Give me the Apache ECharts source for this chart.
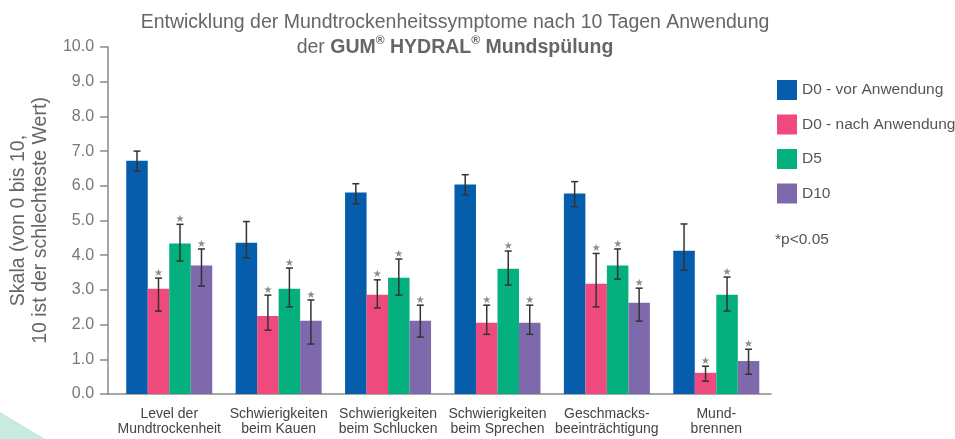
<!DOCTYPE html>
<html>
<head>
<meta charset="utf-8">
<script src="https://cdn.jsdelivr.net/npm/echarts@6/dist/echarts.min.js"></script>
<style>
  html, body { margin: 0; padding: 0; background: #fff; }
  #chart { width: 955px; height: 439px; }
</style>
</head>
<body>
<div id="chart"></div>
<script>
// Kategorien (x-Achse)
var categories = [
  'Level der\nMundtrockenheit',
  'Schwierigkeiten\nbeim Kauen',
  'Schwierigkeiten\nbeim Schlucken',
  'Schwierigkeiten\nbeim Sprechen',
  'Geschmacks-\nbeeinträchtigung',
  'Mund-\nbrennen'
];
var seriesNames = ['D0 - vor Anwendung', 'D0 - nach Anwendung', 'D5', 'D10'];
var seriesColors = ['#065dab', '#ef4a7d', '#05b07f', '#7f69ad'];

// Mittelwerte
var d0vor   = [6.72, 4.36, 5.81, 6.04, 5.78, 4.13];
var d0nach  = [3.03, 2.25, 2.86, 2.05, 3.18, 0.61];
var d5      = [4.34, 3.03, 3.35, 3.61, 3.70, 2.86];
var d10     = [3.70, 2.11, 2.11, 2.05, 2.63, 0.95];

// Fehlerbalken (obere / untere Grenze)
var d0vorHigh  = [7.00, 4.97, 6.06, 6.32, 6.12, 4.90];
var d0vorLow   = [6.42, 3.92, 5.48, 5.74, 5.40, 3.57];
var d0nachHigh = [3.34, 2.85, 3.29, 2.56, 4.05, 0.80];
var d0nachLow  = [2.39, 1.84, 2.48, 1.72, 2.51, 0.37];
var d5High     = [4.89, 3.63, 3.89, 4.12, 4.18, 3.37];
var d5Low      = [3.83, 2.51, 2.85, 3.14, 3.31, 2.39];
var d10High    = [4.18, 2.71, 2.56, 2.56, 3.05, 1.29];
var d10Low     = [3.11, 1.44, 1.64, 1.72, 2.10, 0.57];

// signifikant (*p<0.05)
var significant = [false, true, true, true];

var yTicks = [0, 1, 2, 3, 4, 5, 6, 7, 8, 9, 10];

var values = [d0vor, d0nach, d5, d10];
var highs = [d0vorHigh, d0nachHigh, d5High, d10High];
var lows = [d0vorLow, d0nachLow, d5Low, d10Low];

var BAR_W = 21.5;
var Y_OFFSET = 6.5;
var FONT = '"Liberation Sans", Arial, sans-serif';

var chart = echarts.init(document.getElementById('chart'));

var series = [];
for (var s = 0; s < 4; s++) {
  series.push({
    name: seriesNames[s],
    type: 'bar',
    barWidth: BAR_W,
    barGap: '0%',
    itemStyle: { color: seriesColors[s] },
    data: values[s],
    z: 2
  });
}

// Fehlerbalken + Sterne
for (var s = 0; s < 4; s++) {
  (function (si) {
    var data = [];
    for (var i = 0; i < categories.length; i++) {
      data.push([i, lows[si][i], highs[si][i]]);
    }
    series.push({
      type: 'custom',
      name: seriesNames[si] + ' err',
      z: 5,
      silent: true,
      renderItem: function (params, api) {
        var idx = api.value(0);
        var lo = api.coord([idx, api.value(1)]);
        var hi = api.coord([idx, api.value(2)]);
        var x = lo[0] + (si - 1.5) * BAR_W;
        var cap = 3.5;
        var style = { stroke: '#333', lineWidth: 1.5 };
        var children = [
          { type: 'line', shape: { x1: x, y1: hi[1], x2: x, y2: lo[1] }, style: style },
          { type: 'line', shape: { x1: x - cap, y1: hi[1], x2: x + cap, y2: hi[1] }, style: style },
          { type: 'line', shape: { x1: x - cap, y1: lo[1], x2: x + cap, y2: lo[1] }, style: style }
        ];
        if (significant[si]) {
          children.push({
            type: 'text',
            style: {
              text: '★', x: x, y: hi[1] - 5,
              fill: '#8c8c8c', font: '10px "DejaVu Sans", sans-serif',
              align: 'center', verticalAlign: 'middle'
            }
          });
        }
        return { type: 'group', children: children };
      },
      data: data
    });
  })(s);
}

var option = {
  animation: false,
  title: {
    text: 'Entwicklung der Mundtrockenheitssymptome nach 10 Tagen Anwendung\nder {b|GUM}{sup|®}{b| HYDRAL}{sup|®}{b| Mundspülung}',
    left: 450,
    top: 5,
    textAlign: 'center',
    textStyle: {
      fontFamily: FONT,
      fontSize: 19.5,
      fontWeight: 'normal',
      color: '#666',
      lineHeight: 25,
      align: 'center',
      rich: {
        b: { fontFamily: FONT, fontSize: 19.5, fontWeight: 'bold', color: '#666', lineHeight: 25 },
        sup: { fontFamily: FONT, fontSize: 12, fontWeight: 'bold', color: '#666', lineHeight: 25, verticalAlign: 'top', padding: [0, 0, 7, 0] }
      }
    }
  },
  legend: {
    orient: 'vertical',
    left: 772,
    top: 75,
    itemWidth: 20,
    itemHeight: 20,
    itemGap: 14.5,
    icon: 'rect',
    data: seriesNames,
    textStyle: { fontFamily: FONT, fontSize: 15.5, color: '#555' }
  },
  graphic: [
    {
      type: 'text',
      left: 775,
      top: 232,
      style: { text: '*p<0.05', fontFamily: FONT, fontSize: 15.5, fill: '#555' }
    },
    {
      type: 'polygon',
      silent: true,
      shape: { points: [[0, 412], [45, 439], [0, 439]] },
      style: { fill: '#c8eadf' },
      z: -1
    }
  ],
  grid: { left: 111, right: 184, top: 47, bottom: 45 },
  xAxis: {
    type: 'category',
    data: categories,
    axisLine: {
      lineStyle: { color: '#8a8a8a', width: 1.5 },
      // Achsenlinie bis zur y-Achse verlängern
      symbol: ['rect', 'none'],
      symbolSize: [1.5, Y_OFFSET + 1],
      symbolOffset: [-(Y_OFFSET + 1) / 2, 0]
    },
    axisTick: { show: false },
    axisLabel: {
      fontFamily: FONT, fontSize: 14, color: '#444', lineHeight: 15, margin: 13, interval: 0
    }
  },
  yAxis: {
    type: 'value',
    min: yTicks[0],
    max: yTicks[yTicks.length - 1],
    interval: 1,
    offset: Y_OFFSET,
    name: 'Skala (von 0 bis 10,\n10 ist der schlechteste Wert)',
    nameLocation: 'middle',
    nameGap: 48,
    nameTextStyle: { fontFamily: FONT, fontSize: 19.5, color: '#666', lineHeight: 22 },
    splitLine: { show: false },
    axisLine: { show: true, lineStyle: { color: '#8a8a8a', width: 1.5 } },
    axisTick: { show: true, length: 8, lineStyle: { color: '#8a8a8a', width: 1.5 } },
    axisLabel: {
      fontFamily: FONT, fontSize: 16, color: '#777', margin: 14,
      formatter: function (v) { return v.toFixed(1); }
    }
  },
  series: series
};

chart.setOption(option);
</script>
</body>
</html>
